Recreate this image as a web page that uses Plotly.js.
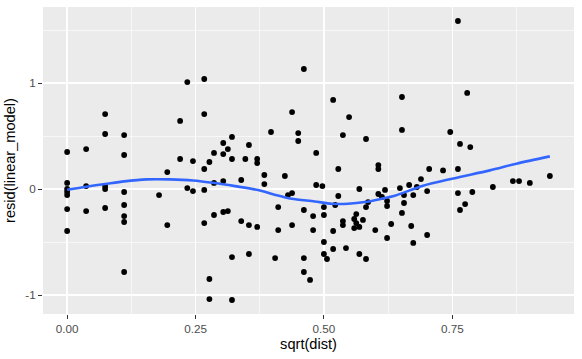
<!DOCTYPE html>
<html>
<head>
<meta charset="utf-8">
<script src="https://cdn.plot.ly/plotly-3.0.1.min.js"></script>
<style>html,body{margin:0;padding:0;background:#fff;}#chart{width:582px;height:359px;}</style>
</head>
<body>
<div id="chart"></div>
<script>
// Scatter of residuals vs sqrt(dist)
const sqrtDist = [
  0.000, 0.037, 0.074, 0.074, 0.111, 0.111, 0.220, 0.234, 0.267, 0.267,
  0.220, 0.245, 0.267, 0.277, 0.286, 0.000, 0.000, 0.000, 0.000, 0.000,
  0.000, 0.037, 0.037, 0.074, 0.074, 0.074, 0.111, 0.111, 0.111, 0.111,
  0.111, 0.179, 0.195, 0.195, 0.234, 0.245, 0.267, 0.286, 0.286, 0.267,
  0.277, 0.277, 0.461, 0.438, 0.397, 0.450, 0.450, 0.485, 0.518, 0.549,
  0.537, 0.582, 0.528, 0.606, 0.321, 0.304, 0.354, 0.313, 0.304, 0.321,
  0.347, 0.370, 0.370, 0.304, 0.339, 0.384, 0.384, 0.424, 0.430, 0.438,
  0.485, 0.497, 0.528, 0.569, 0.606, 0.606, 0.304, 0.313, 0.339, 0.354,
  0.370, 0.411, 0.411, 0.438, 0.461, 0.479, 0.479, 0.500, 0.500, 0.522,
  0.518, 0.537, 0.537, 0.563, 0.559, 0.563, 0.559, 0.569, 0.576, 0.582,
  0.586, 0.600, 0.500, 0.321, 0.354, 0.405, 0.461, 0.500, 0.506, 0.518,
  0.543, 0.569, 0.582, 0.461, 0.473, 0.321, 0.761, 0.652, 0.779, 0.652,
  0.746, 0.765, 0.785, 0.705, 0.732, 0.761, 0.689, 0.648, 0.666, 0.681,
  0.701, 0.656, 0.674, 0.619, 0.613, 0.623, 0.623, 0.656, 0.652, 0.631,
  0.623, 0.670, 0.674, 0.701, 0.761, 0.789, 0.775, 0.765, 0.829, 0.868,
  0.880, 0.901, 0.940
];
const residLinearModel = [
  0.349, 0.377, 0.707, 0.519, 0.509, 0.321, 0.642, 1.009, 1.038, 0.707,
  0.283, 0.264, 0.189, 0.255, 0.340, 0.057, 0.000, -0.028, -0.057, -0.189,
  -0.396, 0.028, -0.208, 0.028, 0.000, -0.179, -0.028, -0.151, -0.255, -0.311,
  -0.783, -0.057, 0.160, -0.340, 0.009, -0.019, -0.009, 0.057, -0.245, -0.321,
  -0.849, -1.038, 1.132, 0.726, 0.538, 0.528, 0.453, 0.340, 0.840, 0.679,
  0.509, 0.472, 0.189, 0.226, 0.491, 0.434, 0.415, 0.377, 0.330, 0.283,
  0.283, 0.283, 0.245, 0.075, 0.085, 0.132, 0.047, 0.123, -0.057, -0.038,
  0.038, 0.028, -0.066, 0.000, 0.189, -0.047, -0.217, -0.208, -0.302, -0.340,
  -0.358, -0.170, -0.387, -0.340, -0.198, -0.255, -0.387, -0.170, -0.245, -0.151,
  -0.396, -0.302, -0.340, -0.236, -0.283, -0.321, -0.368, -0.358, -0.292, -0.170,
  -0.123, -0.387, -0.500, -0.642, -0.613, -0.651, -0.651, -0.613, -0.660, -0.566,
  -0.557, -0.613, -0.660, -0.783, -0.858, -1.047, 1.585, 0.868, 0.906, 0.557,
  0.538, 0.425, 0.396, 0.189, 0.175, 0.189, 0.094, 0.009, 0.038, 0.019,
  -0.019, -0.057, -0.057, -0.009, -0.075, -0.113, -0.160, -0.132, -0.226, -0.330,
  -0.462, -0.349, -0.509, -0.434, -0.038, -0.028, -0.142, -0.198, 0.019, 0.075,
  0.075, 0.057, 0.123
];
// Smoothed (loess) curve
const smoothX = [0.000, 0.037, 0.074, 0.111, 0.155, 0.200, 0.245, 0.288, 0.327, 0.372, 0.404, 0.437, 0.482, 0.515, 0.547, 0.580, 0.612, 0.638, 0.693, 0.752, 0.823, 0.875, 0.940];
const smoothY = [-0.007, 0.022, 0.047, 0.072, 0.091, 0.091, 0.081, 0.056, 0.027, -0.010, -0.054, -0.092, -0.117, -0.139, -0.139, -0.123, -0.092, -0.063, 0.031, 0.100, 0.176, 0.239, 0.308];

const xTickVals = [0, 0.25, 0.5, 0.75];
const xTickText = ['0.00', '0.25', '0.50', '0.75'];
const yTickVals = [-1, 0, 1];
const yTickText = ['-1', '0', '1'];

const font = 'Liberation Sans, Arial, sans-serif';

const traces = [
  {
    x: sqrtDist, y: residLinearModel, type: 'scatter', mode: 'markers',
    marker: {color: '#000000', size: 5.8}, hoverinfo: 'skip'
  },
  {
    x: smoothX, y: smoothY, type: 'scatter', mode: 'lines',
    line: {color: '#3366FF', width: 2.6, shape: 'spline', smoothing: 0.8}, hoverinfo: 'skip'
  }
];

const layout = {
  width: 582, height: 359,
  margin: {l: 43, r: 8, t: 7, b: 45},
  paper_bgcolor: '#FFFFFF', plot_bgcolor: '#EBEBEB',
  showlegend: false,
  font: {family: font},
  xaxis: {
    range: [-0.047, 0.987], tickmode: 'array', tickvals: xTickVals, ticktext: xTickText,
    showgrid: true, gridcolor: '#FFFFFF', gridwidth: 1.3, zeroline: false, showline: false,
    ticks: 'outside', ticklen: 4, tickwidth: 1, tickcolor: '#333333',
    tickfont: {family: font, size: 11.7, color: '#4D4D4D'},
    minor: {tick0: 0.125, dtick: 0.25, showgrid: true, gridcolor: '#FFFFFF', gridwidth: 0.6, ticks: ''},
    title: {text: 'sqrt(dist)', font: {family: font, size: 14.6, color: '#000000'}, standoff: 4}
  },
  yaxis: {
    range: [-1.179, 1.717], tickmode: 'array', tickvals: yTickVals, ticktext: yTickText,
    showgrid: true, gridcolor: '#FFFFFF', gridwidth: 1.3, zeroline: false, showline: false,
    ticks: 'outside', ticklen: 4, tickwidth: 1, tickcolor: '#333333',
    tickfont: {family: font, size: 11.7, color: '#4D4D4D'},
    minor: {tick0: -0.5, dtick: 1, showgrid: true, gridcolor: '#FFFFFF', gridwidth: 0.6, ticks: ''},
    title: {text: 'resid(linear_model)', font: {family: font, size: 14.6, color: '#000000'}, standoff: 6}
  }
};

Plotly.newPlot('chart', traces, layout, {displayModeBar: false, staticPlot: true});
</script>
</body>
</html>
